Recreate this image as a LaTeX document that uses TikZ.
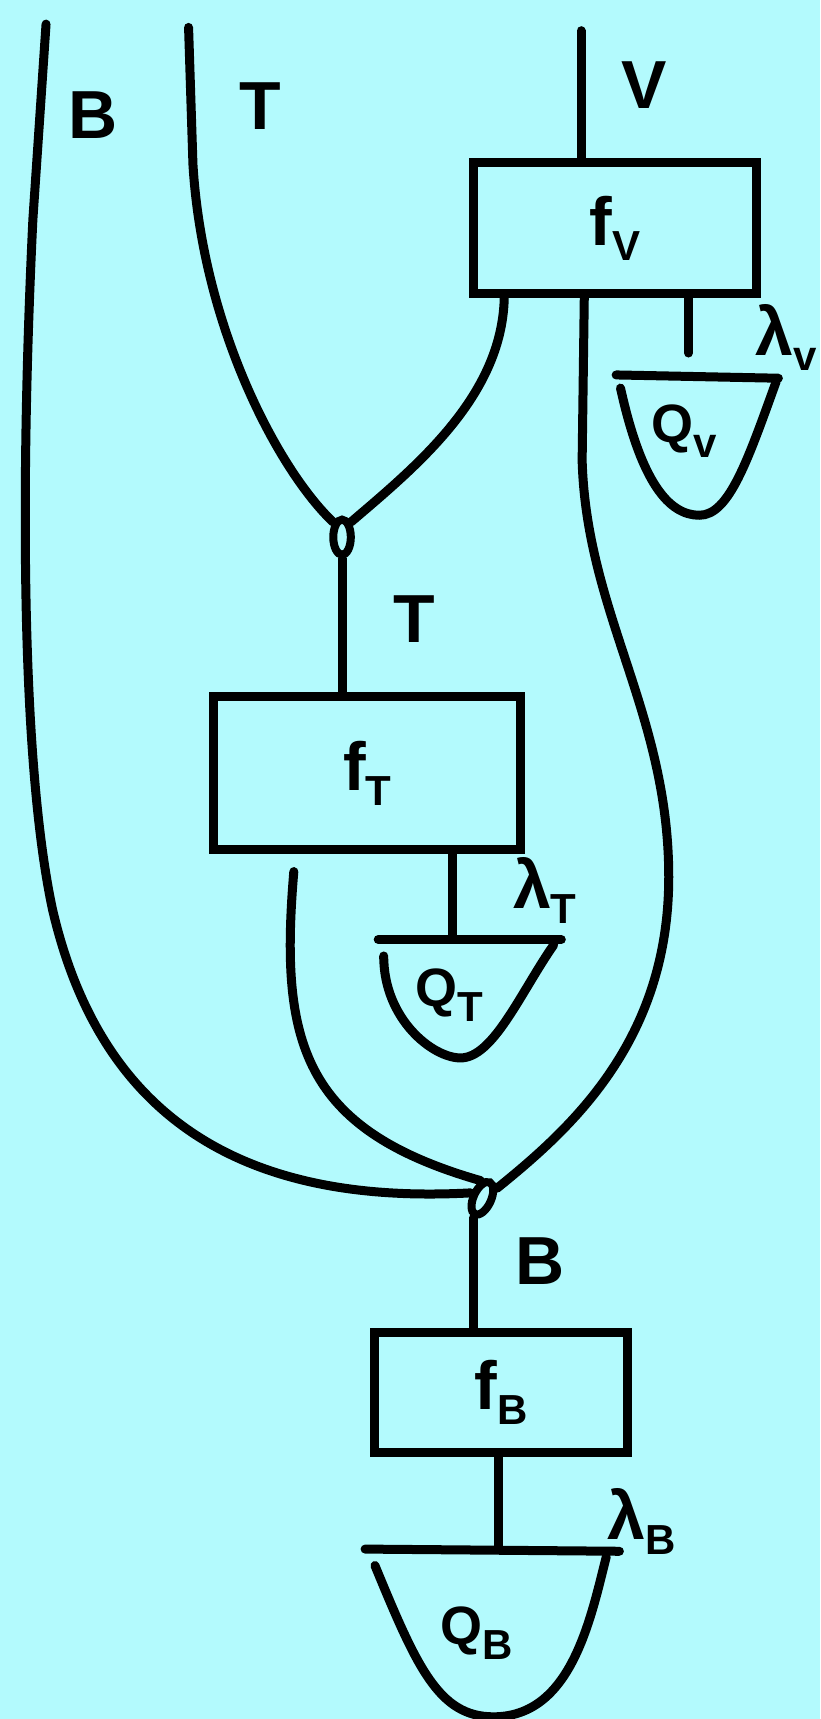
\documentclass[tikz,border=0pt]{standalone}
\usepackage{fontspec}
\setmainfont{Liberation Sans}
\usetikzlibrary{shapes.geometric}
\definecolor{bg}{RGB}{179,250,253}
\newcommand\bigf{\fontsize{68}{68}\selectfont\bfseries}
\newcommand\midf{\fontsize{54}{54}\selectfont\bfseries}
\newcommand\smallf{\fontsize{42}{42}\selectfont\bfseries}
\newcommand\lowsub[1]{\raisebox{-15pt}{\smallf #1}}
\begin{document}
\begin{tikzpicture}[x=1.0963pt,y=-1.0963pt,
  wire/.style={line width=9pt,line cap=round,line join=round},
  fbox/.style={draw,line width=9pt,rectangle,inner sep=0pt,font=\bigf},
  merge/.style={draw,ellipse,line width=8pt,inner sep=0pt,minimum width=16*1.0963pt,minimum height=32*1.0963pt},
  lab/.style={font=\bigf,inner sep=0pt},
  qtext/.style={font=\midf,inner sep=0pt}]
\fill[bg] (0,0) rectangle (748,1568);
\useasboundingbox (0,0) rectangle (748,1568);

% boxes
\node[fbox,minimum width=258*1.0963pt,minimum height=120*1.0963pt] (fV) at (561,208) {f\lowsub{V}};
\node[fbox,minimum width=280*1.0963pt,minimum height=140*1.0963pt] (fT) at (335,705) {f\lowsub{T}};
\node[fbox,minimum width=230*1.0963pt,minimum height=110*1.0963pt] (fB) at (457,1270) {f\lowsub{B}};

% merge nodes
\node[merge] (n1) at (312,490) {};
\node[merge,rotate=-25] (nB) at (440,1093) {};

% free ends
\coordinate (Btop) at (42,22);
\coordinate (Ttop) at (172,25);
\coordinate (Vtop) at (530,28);
\coordinate (fVout) at (460,268);
\coordinate (Vout) at (533,268);
\coordinate (fTout) at (268,795);
\coordinate (qVtop) at (628,322);
\coordinate (qTtop) at (413,855);
\coordinate (qBtop) at (455,1410);

% effects (Q)
\node[qtext] (QV) at (624,393) {Q\lowsub{v}};
\node[qtext] (QT) at (410,908) {Q\lowsub{T}};
\node[qtext] (QB) at (435,1490) {Q\lowsub{B}};
\draw[wire] (562,342) -- (710,345);
\draw[wire] (566,354) .. controls (585,440) and (610,470) .. (638,470) .. controls (665,470) and (682,420) .. (708,348);
\draw[wire] (345,857) -- (512,857);
\draw[wire] (350,872) .. controls (350,930) and (395,965) .. (420,965) .. controls (450,965) and (475,905) .. (505,862);
\draw[wire] (333,1413) -- (565,1415);
\draw[wire] (342,1428) .. controls (380,1520) and (400,1566) .. (450,1566) .. controls (520,1566) and (538,1480) .. (553,1420);

% wires
\draw[wire] (Vtop) -- (Vtop |- fV.north);
\draw[wire] (Ttop) -- (176,150) .. controls (185,300) and (255,430) .. (n1.north west);
\draw[wire] (fVout) .. controls (460,360) and (380,425) .. (n1.north east);
\draw[wire] (n1.south) -- (n1.south |- fT.north);
\draw[wire] (Vout) -- (531,420) .. controls (535,560) and (610,650) .. (610,800) .. controls (610,950) and (520,1030) .. (nB.north east);
\draw[wire] (Btop) -- (30,200) .. controls (18,450) and (20,700) .. (48,830) .. controls (90,1010) and (210,1100) .. (nB.west);
\draw[wire] (fTout) .. controls (255,950) and (275,1030) .. (nB.north west);
\draw[wire] (nB.south) -- (nB.south |- fB.north);
\draw[wire] (fV.south -| qVtop) -- (qVtop);
\draw[wire] (fT.south -| qTtop) -- (qTtop);
\draw[wire] (fB.south -| qBtop) -- (qBtop);

% labels
\node[lab] (lB1) at (85,105) {B};
\node[lab] (lT1) at (237,97) {T};
\node[lab] (lV1) at (588,78) {V};
\node[lab,anchor=west] (lV2) at (689,308) {λ\lowsub{v}};
\node[lab] (lT2) at (378,565) {T};
\node[lab] (lT3) at (497,812) {λ\lowsub{T}};
\node[lab] (lB2) at (493,1150) {B};
\node[lab] (lB3) at (585,1388) {λ\lowsub{B}};
\end{tikzpicture}
\end{document}
